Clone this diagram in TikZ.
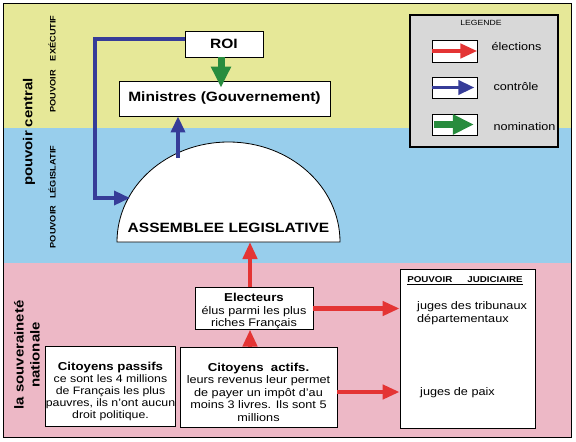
\documentclass[tikz,border=0pt]{standalone}
\usepackage{fontspec}
\setmainfont[FakeStretch=1.15]{Liberation Sans}
\usepackage{tikz}
\usetikzlibrary{arrows.meta}

\definecolor{jaune}{RGB}{230,232,152}
\definecolor{bleuclair}{RGB}{152,206,236}
\definecolor{rose}{RGB}{237,184,198}
\definecolor{gris}{RGB}{216,216,216}
\definecolor{rouge}{RGB}{228,52,52}
\definecolor{bleu}{RGB}{54,60,152}
\definecolor{vert}{RGB}{40,140,62}

\tikzset{
  boite/.style={draw, fill=white, line width=0.8pt, align=center, inner sep=0pt},
  titre/.style={font=\fontsize{13.5}{15}\selectfont\bfseries},
  texte/.style={font=\fontsize{11}{12.5}\selectfont},
  grand/.style={font=\fontsize{13}{14}\selectfont\bfseries, rotate=90},
  petit/.style={font=\fontsize{8}{9}\selectfont\bfseries, rotate=90},
  elec/.style={draw=rouge, line width=4.5pt, -{Triangle[length=17pt,width=14pt]}},
  ctrl/.style={draw=bleu, line width=3.5pt, -{Triangle[length=16pt,width=14pt]}},
  nomin/.style={draw=vert, line width=7pt, -{Triangle[length=21pt,width=19pt]}}
}

\begin{document}
\begin{tikzpicture}[x=1pt, y=-1pt]
  \useasboundingbox (0,0) rectangle (576,442);
  % bandes
  \fill[jaune] (3,3) rectangle (571,128);
  \fill[bleuclair] (3,128) rectangle (571,263);
  \fill[rose] (3,263) rectangle (571,437);
  \draw[line width=1pt] (3,3) rectangle (571,437);

  \node[grand] (central) at (29,132) {pouvoir central};
  \node[petit] (executif) at (52,64) {POUVOIR\hspace{9pt}EXÉCUTIF};
  \node[petit] (legislatif) at (52,197) {POUVOIR\hspace{7pt}LÉGISLATIF};
  \node[grand] (souv) at (19,355) {la souveraineté};
  \node[grand] (nation) at (35,355) {nationale};

  % pouvoir executif
  \node[boite, titre, minimum width=78, minimum height=26] (roi) at (224,44) {ROI};
  \node[boite, titre, minimum width=211, minimum height=35] (ministres) at (224.5,98.5) {Ministres (Gouvernement)};

  % assemblee
  \draw[fill=white, line width=0.8pt] (117,242) arc[start angle=180, end angle=360, x radius=111.5, y radius=100] -- cycle;
  \node[titre] (assemblee) at (228.5,228) {ASSEMBLEE LEGISLATIVE};
  \coordinate (asw) at (130,198);
  \coordinate (asn) at (178,158);
  \coordinate (asb) at (250,242);
  \coordinate (coin) at (95,198);

  % souverainete nationale
  \node[boite, texte, minimum width=118, minimum height=41] (electeurs) at (254,308.5)
    {{\rule{0pt}{14pt}\fontsize{11.5}{13}\selectfont\bfseries Electeurs}\\élus parmi les plus\\riches Français};
  \node[boite, texte, minimum width=157, minimum height=80] (actifs) at (258.5,387)
    {{\rule{0pt}{19pt}\fontsize{11.5}{13}\selectfont\bfseries Citoyens\ \ actifs.}\\leurs revenus leur permet\\de payer un impôt d'au\\moins 3 livres. Ils sont 5\\millions};
  \node[boite, font=\fontsize{10.7}{12}\selectfont, minimum width=127, minimum height=80] (passifs) at (110.5,386)
    {{\rule{0pt}{20pt}\fontsize{11.5}{13}\selectfont\bfseries Citoyens passifs}\\ce sont les 4 millions\\de Français les plus\\pauvres, ils n'ont aucun\\droit politique.};

  % pouvoir judiciaire
  \node[boite, minimum width=135, minimum height=159] (judic) at (467.5,348.5) {};
  \node[font=\fontsize{8.5}{9}\selectfont\bfseries] (judtitre) at (465,281) {\underline{POUVOIR\hspace{15pt}JUDICIAIRE}};
  \node[texte, align=left, anchor=west, inner sep=0pt] (tribunaux) at (417,313) {juges des tribunaux\\départementaux};
  \node[texte, anchor=west, inner sep=0pt] (paix) at (420,393) {juges de paix};

  % legende
  \node[draw, fill=gris, line width=1.2pt, minimum width=148, minimum height=132] (legende) at (484,81) {};
  \node[font=\fontsize{7.5}{8}\selectfont] (legtitre) at (481,23) {LEGENDE};
  \node[boite, minimum width=45, minimum height=22] (lg1) at (454.5,51) {};
  \node[boite, minimum width=45, minimum height=21] (lg2) at (454.5,87.5) {};
  \node[boite, minimum width=45, minimum height=21] (lg3) at (455,124.5) {};
  \node[texte, anchor=west] (lgt1) at (488,47) {élections};
  \node[texte, anchor=west] (lgt2) at (490,87) {contrôle};
  \node[texte, anchor=west] (lgt3) at (490,127) {nomination};
  \draw[elec] (lg1.west) -- (lg1.east);
  \draw[ctrl] (lg2.west) -- ([xshift=-3pt]lg2.east);
  \draw[nomin] ([xshift=2pt]lg3.west) -- ([xshift=-4pt]lg3.east);

  % fleches
  \draw[nomin] ([xshift=-3pt]roi.south) -- ([xshift=-3pt,yshift=-7pt]ministres.north -| roi.south);
  \draw[ctrl] ([yshift=5pt]roi.west) -| (coin) -- (asw);
  \draw[ctrl] (asn) -- (asn |- ministres.south);
  \draw[elec] (asb |- electeurs.north) -- (asb);
  \draw[elec] (asb |- actifs.north) -- (asb |- electeurs.south);
  \draw[elec] (electeurs.east) -- (electeurs.east -| judic.west);
  \draw[elec] ([yshift=-5pt]actifs.east) -- ([yshift=-5pt]actifs.east -| judic.west);
\end{tikzpicture}
\end{document}
